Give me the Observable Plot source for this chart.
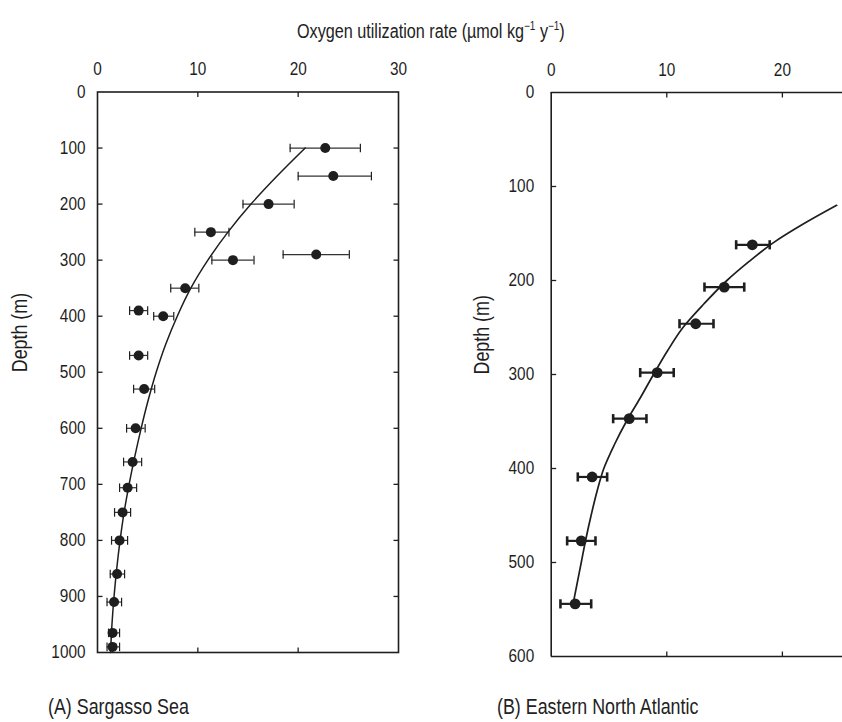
<!DOCTYPE html>
<html>
<head>
<meta charset="utf-8">
<script src="https://cdn.jsdelivr.net/npm/d3@7"></script>
<script src="https://cdn.jsdelivr.net/npm/@observablehq/plot@0.6"></script>
<style>
  html, body { margin: 0; padding: 0; background: #fff; }
  #wrap { position: relative; width: 842px; height: 722px; overflow: hidden; font-family: "Liberation Sans", Arial, sans-serif; color: #222; }
  #wrap svg { position: absolute; top: 0; }
  .lbl { position: absolute; white-space: nowrap; font-size: 21.5px; line-height: 1; transform: scaleX(0.83); transform-origin: 0 50%; }
  .title { font-size: 19.5px; }
  .title sup { font-size: 12px; vertical-align: 8px; line-height: 0; }
</style>
</head>
<body>
<div id="wrap">
  <div class="lbl title" style="left:297px; top:22px;">Oxygen utilization rate (µmol kg<sup>−1</sup> y<sup>−1</sup>)</div>
  <div class="lbl" style="left:48px; top:697px;">(A) Sargasso Sea</div>
  <div class="lbl" style="left:497px; top:697px;">(B) Eastern North Atlantic</div>
</div>
<script>
// ---------- Data: (A) Sargasso Sea ----------
const sargDepth = [100, 150, 200, 250, 290, 300, 350, 390, 400, 470, 530, 600, 660, 706, 750, 800, 860, 910, 965, 990];
const sargRate  = [22.7, 23.5, 17.05, 11.3, 21.8, 13.5, 8.74, 4.1, 6.55, 4.1, 4.65, 3.8, 3.5, 3.0, 2.5, 2.2, 1.95, 1.65, 1.5, 1.5];
const sargLo    = [19.2, 20.0, 14.5, 9.7, 18.5, 11.4, 7.3, 3.2, 5.6, 3.2, 3.6, 2.9, 2.6, 2.2, 1.7, 1.4, 1.27, 0.95, 1.1, 0.95];
const sargHi    = [26.2, 27.3, 19.6, 13.1, 25.1, 15.6, 10.1, 5.0, 7.6, 5.0, 5.7, 4.75, 4.4, 3.9, 3.3, 3.0, 2.7, 2.4, 2.2, 2.2];
const sargCurveDepth = [100, 150, 200, 250, 300, 350, 400, 450, 500, 550, 600, 650, 700, 750, 800, 850, 900, 950, 1000];
const sargCurveRate  = [20.7, 17.9, 15.3, 13.0, 11.0, 9.3, 7.95, 6.8, 5.85, 5.05, 4.35, 3.72, 3.15, 2.65, 2.25, 1.92, 1.65, 1.44, 1.3];
const sargXTicks = [0, 10, 20, 30];
const sargYTicks = [0, 100, 200, 300, 400, 500, 600, 700, 800, 900, 1000];

// ---------- Data: (B) Eastern North Atlantic ----------
const natlDepth = [162, 207, 246, 298, 347, 409, 477, 544];
const natlRate  = [17.4, 14.97, 12.5, 9.17, 6.75, 3.54, 2.6, 2.07];
const natlLo    = [16.0, 13.26, 11.1, 7.7, 5.36, 2.3, 1.38, 0.8];
const natlHi    = [18.9, 16.7, 14.04, 10.6, 8.24, 4.84, 3.83, 3.46];
const natlCurveDepth = [120, 140, 160, 180, 200, 225, 250, 275, 300, 325, 350, 375, 400, 425, 450, 475, 500, 525, 545];
const natlCurveRate  = [24.7, 21.8, 19.2, 17.1, 15.2, 13.2, 11.4, 10.05, 8.85, 7.7, 6.5, 5.45, 4.55, 3.95, 3.45, 3.0, 2.6, 2.2, 1.88];
const natlXTicks = [0, 10, 20];
const natlYTicks = [0, 100, 200, 300, 400, 500, 600];

// ---------- helpers ----------
const sarg = sargDepth.map((d, i) => ({depth: d, rate: sargRate[i], lo: sargLo[i], hi: sargHi[i]}));
const sargCurve = sargCurveDepth.map((d, i) => ({depth: d, rate: sargCurveRate[i]}));
const natl = natlDepth.map((d, i) => ({depth: d, rate: natlRate[i], lo: natlLo[i], hi: natlHi[i]}));
const natlCurve = natlCurveDepth.map((d, i) => ({depth: d, rate: natlCurveRate[i]}));

const vbar = {draw(ctx, size) { const r = Math.sqrt(size / Math.PI); ctx.moveTo(0, -r); ctx.lineTo(0, r); }};
const tickDown = {draw(ctx, size) { const r = Math.sqrt(size / Math.PI); ctx.moveTo(0, 0); ctx.lineTo(0, r); }};
const tickUp = {draw(ctx, size) { const r = Math.sqrt(size / Math.PI); ctx.moveTo(0, 0); ctx.lineTo(0, -r); }};
const tickRight = {draw(ctx, size) { const r = Math.sqrt(size / Math.PI); ctx.moveTo(0, 0); ctx.lineTo(r, 0); }};
const tickLeft = {draw(ctx, size) { const r = Math.sqrt(size / Math.PI); ctx.moveTo(0, 0); ctx.lineTo(-r, 0); }};

const INK = "#1e1e1e";
const FONT = "'Liberation Sans', Arial, sans-serif";
const TICK_FS = 18.5;
const style = {fontFamily: FONT, fontSize: TICK_FS + "px", color: INK, background: "transparent", overflow: "visible"};
const inner = a => a.slice(1, -1);
const fmt = d => String(d);

// ---------- Panel A ----------
const plotA = Plot.plot({
  width: 420, height: 680,
  marginLeft: 97, marginRight: 22, marginTop: 91.5, marginBottom: 28,
  style,
  x: {domain: [0, 30]},
  y: {domain: [0, 1000], reverse: true},
  marks: [
    Plot.frame({stroke: INK, strokeWidth: 1.6}),
    Plot.axisX({anchor: "top", ticks: sargXTicks, tickFormat: fmt, tickSize: 0, tickPadding: 13, dy: -4, label: null, fontSize: TICK_FS}),
    Plot.axisY({anchor: "left", ticks: sargYTicks, tickFormat: fmt, tickSize: 0, tickPadding: 12, label: null, fontSize: TICK_FS}),
    Plot.dot(inner(sargXTicks), {x: d => d, frameAnchor: "top", symbol: tickDown, r: 5, stroke: INK, strokeWidth: 1.3}),
    Plot.dot(inner(sargXTicks), {x: d => d, frameAnchor: "bottom", symbol: tickUp, r: 5, stroke: INK, strokeWidth: 1.3}),
    Plot.dot(inner(sargYTicks), {y: d => d, frameAnchor: "left", symbol: tickRight, r: 5, stroke: INK, strokeWidth: 1.3}),
    Plot.dot(inner(sargYTicks), {y: d => d, frameAnchor: "right", symbol: tickLeft, r: 5, stroke: INK, strokeWidth: 1.3}),
    Plot.text(["Depth (m)"], {frameAnchor: "left", rotate: -90, dx: -77, fontSize: 21.5, fill: INK}),
    Plot.ruleY(sarg, {y: "depth", x1: "lo", x2: "hi", stroke: "#333", strokeWidth: 1.2}),
    Plot.dot(sarg, {x: "lo", y: "depth", symbol: vbar, r: 4.3, stroke: INK, strokeWidth: 1.2}),
    Plot.dot(sarg, {x: "hi", y: "depth", symbol: vbar, r: 4.3, stroke: INK, strokeWidth: 1.2}),
    Plot.line(sargCurve, {x: "rate", y: "depth", curve: "monotone-y", stroke: INK, strokeWidth: 1.5}),
    Plot.dot(sarg, {x: "rate", y: "depth", r: 5, fill: INK, stroke: "none"})
  ]
});
plotA.style.left = "0px";

// ---------- Panel B ----------
const plotB = Plot.plot({
  width: 402, height: 680,
  marginLeft: 110.7, marginRight: 0, marginTop: 92, marginBottom: 24,
  style,
  x: {domain: [0, 25.2]},
  y: {domain: [0, 600], reverse: true},
  marks: [
    Plot.ruleX([0], {stroke: INK, strokeWidth: 1.6}),
    Plot.ruleY([0, 600], {stroke: INK, strokeWidth: 1.6}),
    Plot.axisX({anchor: "top", ticks: natlXTicks, tickFormat: fmt, tickSize: 0, tickPadding: 13, dy: -4, label: null, fontSize: TICK_FS}),
    Plot.axisY({anchor: "left", ticks: natlYTicks, tickFormat: fmt, tickSize: 0, tickPadding: 17, label: null, fontSize: TICK_FS}),
    Plot.dot(natlXTicks.slice(1), {x: d => d, frameAnchor: "top", symbol: tickDown, r: 5, stroke: INK, strokeWidth: 1.3}),
    Plot.dot(natlXTicks.slice(1), {x: d => d, frameAnchor: "bottom", symbol: tickUp, r: 5, stroke: INK, strokeWidth: 1.3}),
    Plot.dot(inner(natlYTicks), {y: d => d, frameAnchor: "left", symbol: tickRight, r: 5, stroke: INK, strokeWidth: 1.3}),
    Plot.text(["Depth (m)"], {frameAnchor: "left", rotate: -90, dx: -68.7, fontSize: 21.5, fill: INK}),
    Plot.ruleY(natl, {y: "depth", x1: "lo", x2: "hi", stroke: INK, strokeWidth: 2.2}),
    Plot.dot(natl, {x: "lo", y: "depth", symbol: vbar, r: 4.6, stroke: INK, strokeWidth: 2.6}),
    Plot.dot(natl, {x: "hi", y: "depth", symbol: vbar, r: 4.6, stroke: INK, strokeWidth: 2.6}),
    Plot.line(natlCurve, {x: "rate", y: "depth", curve: "monotone-y", stroke: INK, strokeWidth: 1.7}),
    Plot.dot(natl, {x: "rate", y: "depth", r: 5.4, fill: INK, stroke: "none"})
  ]
});
plotB.style.left = "440px";

const wrap = document.getElementById("wrap");
wrap.appendChild(plotA);
wrap.appendChild(plotB);

// Condense SVG text horizontally to match the narrow typeface of the original.
wrap.querySelectorAll("svg text").forEach(t => {
  const len = t.getComputedTextLength();
  if (len > 0) {
    t.setAttribute("textLength", (len * 0.83).toFixed(2));
    t.setAttribute("lengthAdjust", "spacingAndGlyphs");
  }
});
</script>
</body>
</html>
